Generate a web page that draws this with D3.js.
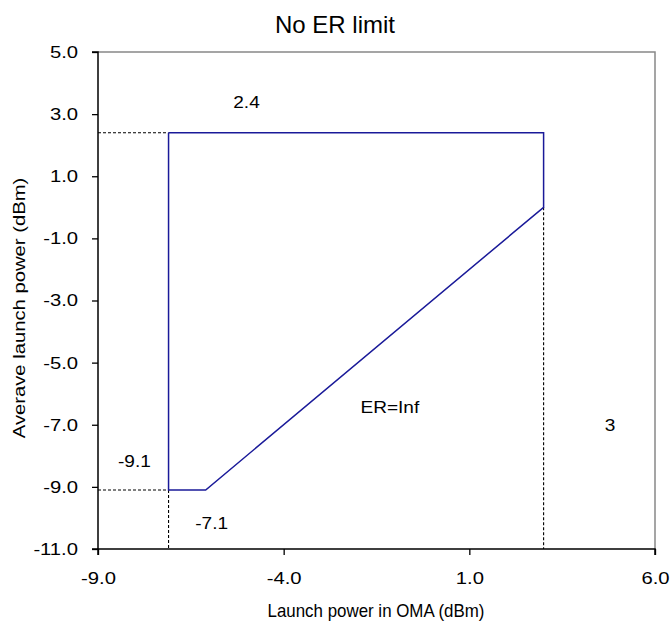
<!DOCTYPE html>
<html>
<head>
<meta charset="utf-8">
<script src="https://cdn.jsdelivr.net/npm/d3@7"></script>
<style>
  body { margin: 0; background: #fff; }
  text { font-family: "Liberation Sans", Arial, sans-serif; fill: #000; }
</style>
</head>
<body>
<svg id="chart" width="672" height="624"></svg>
<script>
"use strict";
// region outline (OMA dBm, average dBm)
var regionX = [-7.1, 3.0, 3.0, -6.1, -7.1, -7.1];
var regionY = [2.4, 2.4, 0.0, -9.1, -9.1, 2.4];

// dashed guide lines [x1, y1, x2, y2]
var guideLines = [
    [-9, 2.4, -7.1, 2.4],
    [-9, -9.1, -7.1, -9.1],
    [-7.1, -9.1, -7.1, -11],
    [3.0, 0.0, 3.0, -11]
];

var xTicks = [-9, -4, 1, 6];
var yTicks = [5, 3, 1, -1, -3, -5, -7, -9, -11];

// annotation text [label, x, y]
var notes = [
    ["2.4", -5.0, 3.2],
    ["-9.1", -8.02, -8.35],
    ["-7.1", -5.94, -10.36],
    ["ER=Inf", -1.14, -6.62],
    ["3", 4.79, -7.2]
];

var svg = d3.select('#chart');
var plotL = 98, plotR = 655, plotT = 52, plotB = 549;
var stretch = 1.19; // the original's glyphs are a bit wider than Arial

var x = d3.scaleLinear().domain([-9, 6]).range([plotL, plotR]);
var y = d3.scaleLinear().domain([-11, 5]).range([plotB, plotT]);

function widen(sel) {
    sel.each(function() {
        var w = this.getComputedTextLength();
        d3.select(this).attr('textLength', w * stretch).attr('lengthAdjust', 'spacingAndGlyphs');
    });
}

// plot area border (top/right gray)
svg.append('path')
    .attr('d', 'M' + plotL + ',' + plotT + 'H' + plotR + 'V' + plotB)
    .attr('fill', 'none').attr('stroke', '#888').attr('stroke-width', 1.5);

var xAxis = svg.append('g').attr('transform', 'translate(0,' + plotB + ')')
    .call(d3.axisBottom(x).tickValues(xTicks).tickSize(6).tickPadding(17).tickFormat(d3.format('.1f')));
var yAxis = svg.append('g').attr('transform', 'translate(' + plotL + ',0)')
    .call(d3.axisLeft(y).tickValues(yTicks).tickSize(6).tickPadding(14).tickFormat(d3.format('.1f')));

[xAxis, yAxis].forEach(function(a) {
    a.select('.domain').attr('stroke', '#000').attr('stroke-width', 1.5);
    a.selectAll('.tick line').attr('stroke', '#000').attr('stroke-width', 1.3);
    a.selectAll('.tick text').attr('font-size', 17)
        .attr('font-family', '"Liberation Sans", Arial, sans-serif')
        .text(function(d) { return d3.format('.1f')(d).replace('\u2212', '-'); })
        .call(widen);
});
xAxis.select('.domain').attr('d', 'M' + plotL + ',6V0H' + plotR + 'V6');
yAxis.select('.domain').attr('d', 'M-6,' + plotT + 'H0V' + plotB + 'H-6');

svg.selectAll('line.guide').data(guideLines).enter().append('line')
    .attr('class', 'guide')
    .attr('x1', function(d) { return x(d[0]); })
    .attr('y1', function(d) { return y(d[1]); })
    .attr('x2', function(d) { return x(d[2]); })
    .attr('y2', function(d) { return y(d[3]); })
    .attr('stroke', '#000').attr('stroke-width', 1.1)
    .attr('stroke-dasharray', '3,2');

var line = d3.line()
    .x(function(d) { return x(d[0]); })
    .y(function(d) { return y(d[1]); });

svg.append('path')
    .datum(d3.zip(regionX, regionY))
    .attr('d', line)
    .attr('fill', 'none').attr('stroke', '#1a1a99').attr('stroke-width', 1.5);

svg.selectAll('text.note').data(notes).enter().append('text')
    .attr('class', 'note')
    .attr('x', function(d) { return x(d[1]); })
    .attr('y', function(d) { return y(d[2]); })
    .attr('text-anchor', 'middle')
    .attr('font-size', 16)
    .text(function(d) { return d[0]; })
    .call(widen);

svg.append('text').attr('x', 335).attr('y', 33)
    .attr('text-anchor', 'middle').attr('font-size', 24).text('No ER limit');

svg.append('text').attr('x', 376).attr('y', 617)
    .attr('text-anchor', 'middle').attr('font-size', 18.5)
    .attr('textLength', 217).attr('lengthAdjust', 'spacingAndGlyphs')
    .text('Launch power in OMA (dBm)');

svg.append('text')
    .attr('transform', 'translate(25,308) rotate(-90)')
    .attr('text-anchor', 'middle').attr('font-size', 17).text('Averave launch power (dBm)')
    .call(widen);
</script>
</body>
</html>
